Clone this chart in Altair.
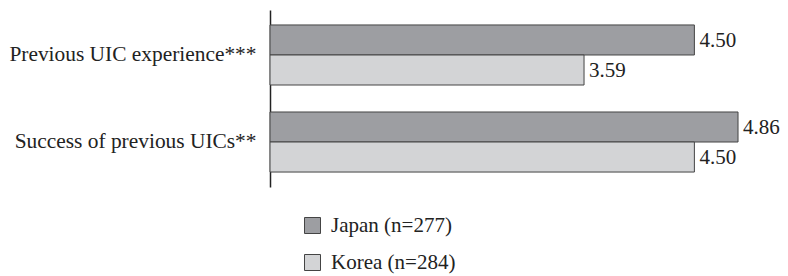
import altair as alt
import pandas as pd

categories = ["Previous UIC experience***", "Success of previous UICs**"]
series = ["Japan (n=277)", "Korea (n=284)"]
japan = [4.50, 4.86]
korea = [3.59, 4.50]
colors = ["#9d9ea2", "#d3d4d6"]

rows = []
for i, c in enumerate(categories):
    rows.append({"item": c, "country": series[0], "value": japan[i]})
    rows.append({"item": c, "country": series[1], "value": korea[i]})
df = pd.DataFrame(rows)

FONT = "Liberation Serif"

base = alt.Chart(df).encode(
    y=alt.Y(
        "item:N",
        sort=categories,
        scale=alt.Scale(paddingInner=0.31, paddingOuter=0.172),
        axis=alt.Axis(
            title=None, ticks=False, labelPadding=14, labelFont=FONT,
            labelFontSize=21.4, labelColor="#222", domainColor="#222",
            domainWidth=1.5, labelLimit=0,
        ),
    ),
    yOffset=alt.YOffset("country:N", sort=series,
                        scale=alt.Scale(paddingInner=0, paddingOuter=0)),
)

bars = base.mark_bar(stroke="#444", strokeWidth=1).encode(
    x=alt.X("value:Q", scale=alt.Scale(domain=[1, 5], zero=False, nice=False),
            axis=None),
    x2=alt.datum(1),
    color=alt.Color(
        "country:N", sort=series,
        scale=alt.Scale(domain=series, range=colors),
        legend=alt.Legend(
            title=None, orient="none", legendX=32, legendY=205,
            direction="vertical", symbolType="square", symbolSize=256,
            labelFont=FONT, labelFontSize=21, labelColor="#222",
            rowPadding=15, padding=0, labelOffset=8,
            symbolStrokeColor="#444", symbolStrokeWidth=1,
        ),
    ),
)

labels = base.mark_text(
    align="left", baseline="middle", dx=5, dy=1, font=FONT, fontSize=21, color="#222"
).encode(
    x=alt.X("value:Q"),
    text=alt.Text("value:Q", format=".2f"),
)

chart = (
    alt.layer(bars, labels)
    .properties(
        width=485, height=177,
        autosize=alt.AutoSizeParams(type="none"),
        padding={"left": 262, "top": 2, "right": 25, "bottom": 89},
    )
    .configure_view(stroke=None)
)

chart.save("out.html", embed_options={"renderer": "svg", "actions": False})
